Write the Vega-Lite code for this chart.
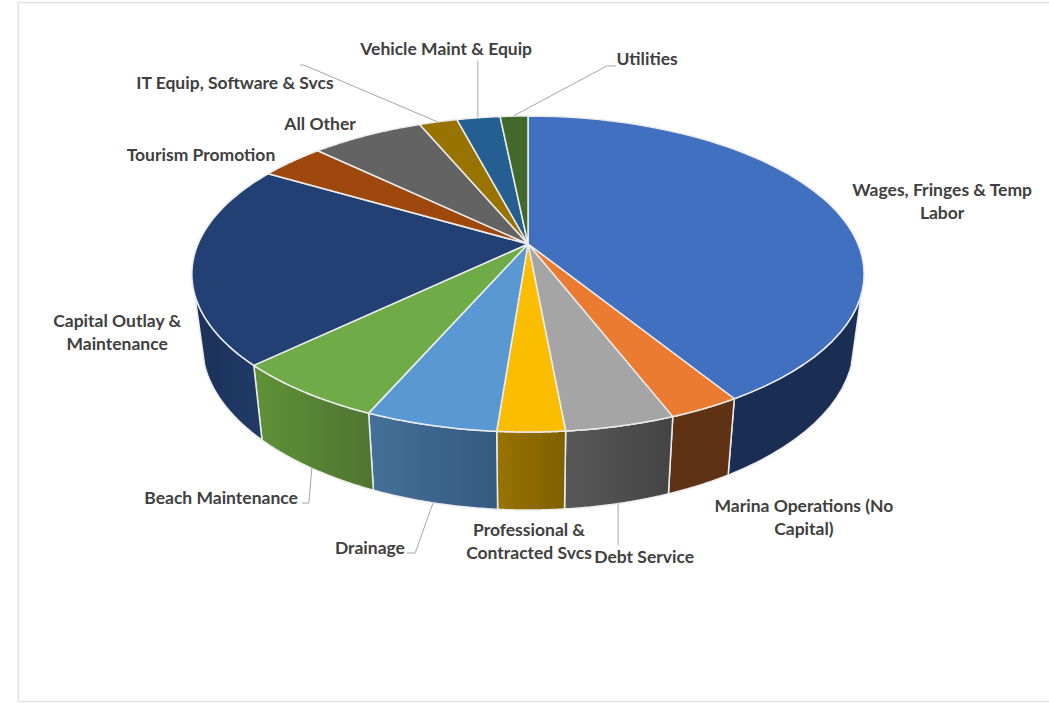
{
  "$schema": "https://vega.github.io/schema/vega-lite/v6.json",
  "width": 1049,
  "height": 703,
  "padding": 0,
  "autosize": {"type": "fit", "contains": "padding"},
  "background": "white",
  "view": {"stroke": null},
  "datasets": {
    "slices": [
      {"name": "Wages, Fringes & Temp Labor", "share": 41.2},
      {"name": "Marina Operations (No Capital)", "share": 2.9},
      {"name": "Debt Service", "share": 4.4},
      {"name": "Professional & Contracted Svcs", "share": 2.7},
      {"name": "Drainage", "share": 5.3},
      {"name": "Beach Maintenance", "share": 6.3},
      {"name": "Capital Outlay & Maintenance", "share": 20.6},
      {"name": "Tourism Promotion", "share": 3.75},
      {"name": "All Other", "share": 6.5},
      {"name": "IT Equip, Software & Svcs", "share": 2.2},
      {"name": "Vehicle Maint & Equip", "share": 2.5},
      {"name": "Utilities", "share": 1.6}
    ],
    "labels": [
      {"label": "Wages, Fringes & Temp\nLabor", "lx": 1.255, "ly": 0.348},
      {"label": "Marina Operations (No\nCapital)", "lx": 0.836, "ly": -1.727},
      {"label": "Debt Service", "lx": 0.352, "ly": -2.062},
      {"label": "Professional &\nContracted Svcs", "lx": 0.003, "ly": -1.885},
      {"label": "Drainage", "lx": -0.479, "ly": -2.003},
      {"label": "Beach Maintenance", "lx": -0.93, "ly": -1.675},
      {"label": "Capital Outlay &\nMaintenance", "lx": -1.245, "ly": -0.513},
      {"label": "Tourism Promotion", "lx": -0.991, "ly": 0.577},
      {"label": "All Other", "lx": -0.63, "ly": 0.781},
      {"label": "IT Equip, Software & Svcs", "lx": -0.888, "ly": 1.05},
      {"label": "Vehicle Maint & Equip", "lx": -0.248, "ly": 1.273},
      {"label": "Utilities", "lx": 0.361, "ly": 1.208}
    ],
    "leaders": [
      {"leader": "IT", "step": 0, "lx": -0.691, "ly": 1.175},
      {"leader": "IT", "step": 1, "lx": -0.679, "ly": 1.175},
      {"leader": "IT", "step": 2, "lx": -0.273, "ly": 0.801},
      {"leader": "Vehicle", "step": 0, "lx": -0.152, "ly": 1.202},
      {"leader": "Vehicle", "step": 1, "lx": -0.152, "ly": 0.834},
      {"leader": "Utilities", "step": 0, "lx": 0.267, "ly": 1.169},
      {"leader": "Utilities", "step": 1, "lx": 0.239, "ly": 1.169},
      {"leader": "Utilities", "step": 2, "lx": -0.045, "ly": 0.84},
      {"leader": "Debt", "step": 0, "lx": 0.273, "ly": -1.701},
      {"leader": "Debt", "step": 1, "lx": 0.273, "ly": -1.976},
      {"leader": "Beach", "step": 0, "lx": -0.655, "ly": -1.471},
      {"leader": "Beach", "step": 1, "lx": -0.664, "ly": -1.701},
      {"leader": "Beach", "step": 2, "lx": -0.685, "ly": -1.701},
      {"leader": "Drainage", "step": 0, "lx": -0.288, "ly": -1.701},
      {"leader": "Drainage", "step": 1, "lx": -0.342, "ly": -2.029},
      {"leader": "Drainage", "step": 2, "lx": -0.367, "ly": -2.029}
    ],
    "frame": [
      {"step": 0, "lx": 1.62, "ly": 1.586},
      {"step": 1, "lx": -1.545, "ly": 1.586},
      {"step": 2, "lx": -1.545, "ly": -3.004},
      {"step": 3, "lx": 1.62, "ly": -3.004}
    ]
  },
  "layer": [
    {
      "description": "Chart area border",
      "data": {"name": "frame"},
      "mark": {"type": "line", "stroke": "#e3e3e3", "strokeWidth": 1.5, "clip": true},
      "encoding": {
        "x": {"field": "lx", "type": "quantitative", "axis": null, "scale": {"domain": [-1.6, 1.5788], "nice": false, "zero": false}},
        "y": {"field": "ly", "type": "quantitative", "axis": null, "scale": {"domain": [-3.0138, 1.6021], "nice": false, "zero": false}},
        "order": {"field": "step"}
      }
    },
    {
      "description": "Side walls of the front-facing slices; each angle is held to the visible arc between the two silhouette edges",
      "data": {"name": "slices"},
      "transform": [
        {"joinaggregate": [{"op": "sum", "field": "share", "as": "total"}]},
        {"window": [{"op": "sum", "field": "share", "as": "cum"}], "frame": [null, 0], "ignorePeers": true},
        {"calculate": "sequence(0, 103)", "as": "pts"},
        {"flatten": ["pts"], "as": ["pt"]},
        {"calculate": "datum.pt <= 50 ? datum.pt / 50 : datum.pt <= 101 ? (101 - datum.pt) / 50 : 0", "as": "t"},
        {"calculate": "clamp(2 * PI * (datum.cum - datum.share + datum.t * datum.share) / datum.total, 1.89, 4.393)", "as": "theta"},
        {"calculate": "1 + 0.19 * cos(datum.theta)", "as": "w"},
        {"calculate": "sin(datum.theta) / datum.w", "as": "px"},
        {"calculate": "cos(datum.theta) / datum.w", "as": "py"},
        {"calculate": "datum.pt > 50 && datum.pt < 102", "as": "lower"},
        {"calculate": "datum.lower ? 0.97 * datum.px : datum.px", "as": "lx"},
        {"calculate": "datum.lower ? -0.4504 + 1.05 * datum.py : datum.py", "as": "ly"}
      ],
      "encoding": {
        "x": {"field": "lx", "type": "quantitative", "axis": null, "scale": {"domain": [-1.6, 1.5788], "nice": false, "zero": false}},
        "y": {"field": "ly", "type": "quantitative", "axis": null, "scale": {"domain": [-3.0138, 1.6021], "nice": false, "zero": false}},
        "order": {"field": "pt"},
        "detail": {"field": "name"}
      },
      "layer": [
        {
          "transform": [{"filter": "datum.name == 'Wages, Fringes & Temp Labor'"}],
          "mark": {"type": "line", "stroke": "#ececec", "strokeWidth": 1.5, "strokeJoin": "round", "fill": "#1a2d52"}
        },
        {
          "transform": [{"filter": "datum.name == 'Marina Operations (No Capital)'"}],
          "mark": {"type": "line", "stroke": "#ececec", "strokeWidth": 1.5, "strokeJoin": "round", "fill": "#603214"}
        },
        {
          "transform": [{"filter": "datum.name == 'Debt Service'"}],
          "mark": {"type": "line", "stroke": "#ececec", "strokeWidth": 1.5, "strokeJoin": "round", "fill": {"gradient": "linear", "x1": 0, "y1": 0, "x2": 1, "y2": 0, "stops": [{"offset": 0, "color": "#585858"}, {"offset": 1, "color": "#444444"}]}}
        },
        {
          "transform": [{"filter": "datum.name == 'Professional & Contracted Svcs'"}],
          "mark": {"type": "line", "stroke": "#ececec", "strokeWidth": 1.5, "strokeJoin": "round", "fill": {"gradient": "linear", "x1": 0, "y1": 0, "x2": 1, "y2": 0, "stops": [{"offset": 0, "color": "#997300"}, {"offset": 1, "color": "#7f6000"}]}}
        },
        {
          "transform": [{"filter": "datum.name == 'Drainage'"}],
          "mark": {"type": "line", "stroke": "#ececec", "strokeWidth": 1.5, "strokeJoin": "round", "fill": {"gradient": "linear", "x1": 0, "y1": 0, "x2": 1, "y2": 0, "stops": [{"offset": 0, "color": "#447099"}, {"offset": 1, "color": "#345a80"}]}}
        },
        {
          "transform": [{"filter": "datum.name == 'Beach Maintenance'"}],
          "mark": {"type": "line", "stroke": "#ececec", "strokeWidth": 1.5, "strokeJoin": "round", "fill": {"gradient": "linear", "x1": 0, "y1": 0, "x2": 1, "y2": 0, "stops": [{"offset": 0, "color": "#5f9239"}, {"offset": 1, "color": "#4f7530"}]}}
        },
        {
          "transform": [{"filter": "datum.name == 'Capital Outlay & Maintenance'"}],
          "mark": {"type": "line", "stroke": "#ececec", "strokeWidth": 1.5, "strokeJoin": "round", "fill": {"gradient": "linear", "x1": 0, "y1": 0, "x2": 1, "y2": 0, "stops": [{"offset": 0, "color": "#1b3158"}, {"offset": 1, "color": "#203a68"}]}}
        }
      ]
    },
    {
      "description": "Top face of the pie, in perspective",
      "data": {"name": "slices"},
      "transform": [
        {"joinaggregate": [{"op": "sum", "field": "share", "as": "total"}]},
        {"window": [{"op": "sum", "field": "share", "as": "cum"}], "frame": [null, 0], "ignorePeers": true},
        {"calculate": "sequence(0, 53)", "as": "pts"},
        {"flatten": ["pts"], "as": ["pt"]},
        {"calculate": "datum.pt == 0 || datum.pt == 52 ? 0 : 1", "as": "r"},
        {"calculate": "(datum.pt - 1) / 50", "as": "t"},
        {"calculate": "2 * PI * (datum.cum - datum.share + datum.t * datum.share) / datum.total", "as": "theta"},
        {"calculate": "1 + 0.19 * datum.r * cos(datum.theta)", "as": "w"},
        {"calculate": "datum.r * sin(datum.theta) / datum.w", "as": "lx"},
        {"calculate": "datum.r * cos(datum.theta) / datum.w", "as": "ly"}
      ],
      "mark": {"type": "line", "stroke": "#ececec", "strokeWidth": 1.5, "strokeJoin": "round"},
      "encoding": {
        "x": {"field": "lx", "type": "quantitative", "axis": null, "scale": {"domain": [-1.6, 1.5788], "nice": false, "zero": false}},
        "y": {"field": "ly", "type": "quantitative", "axis": null, "scale": {"domain": [-3.0138, 1.6021], "nice": false, "zero": false}},
        "order": {"field": "pt"},
        "detail": {"field": "name"},
        "fill": {
          "field": "name",
          "type": "nominal",
          "legend": null,
          "scale": {
            "domain": ["Wages, Fringes & Temp Labor", "Marina Operations (No Capital)", "Debt Service", "Professional & Contracted Svcs", "Drainage", "Beach Maintenance", "Capital Outlay & Maintenance", "Tourism Promotion", "All Other", "IT Equip, Software & Svcs", "Vehicle Maint & Equip", "Utilities"],
            "range": ["#4270c0", "#eb7b30", "#a5a5a5", "#fbbd00", "#5a98d4", "#6fab46", "#234075", "#9e480e", "#636363", "#997300", "#255e91", "#43682b"]
          }
        }
      }
    },
    {
      "description": "Leader lines from the outlying labels to their slices",
      "data": {"name": "leaders"},
      "mark": {"type": "line", "stroke": "#a6a6a6", "strokeWidth": 1},
      "encoding": {
        "x": {"field": "lx", "type": "quantitative", "axis": null, "scale": {"domain": [-1.6, 1.5788], "nice": false, "zero": false}},
        "y": {"field": "ly", "type": "quantitative", "axis": null, "scale": {"domain": [-3.0138, 1.6021], "nice": false, "zero": false}},
        "order": {"field": "step"},
        "detail": {"field": "leader"}
      }
    },
    {
      "description": "Slice names",
      "data": {"name": "labels"},
      "mark": {"type": "text", "font": "Lato", "fontWeight": 700, "fontSize": 17.5, "color": "#404040", "align": "center", "baseline": "middle", "lineBreak": "\n", "lineHeight": 23},
      "encoding": {
        "x": {"field": "lx", "type": "quantitative", "axis": null, "scale": {"domain": [-1.6, 1.5788], "nice": false, "zero": false}},
        "y": {"field": "ly", "type": "quantitative", "axis": null, "scale": {"domain": [-3.0138, 1.6021], "nice": false, "zero": false}},
        "text": {"field": "label"}
      }
    }
  ]
}
